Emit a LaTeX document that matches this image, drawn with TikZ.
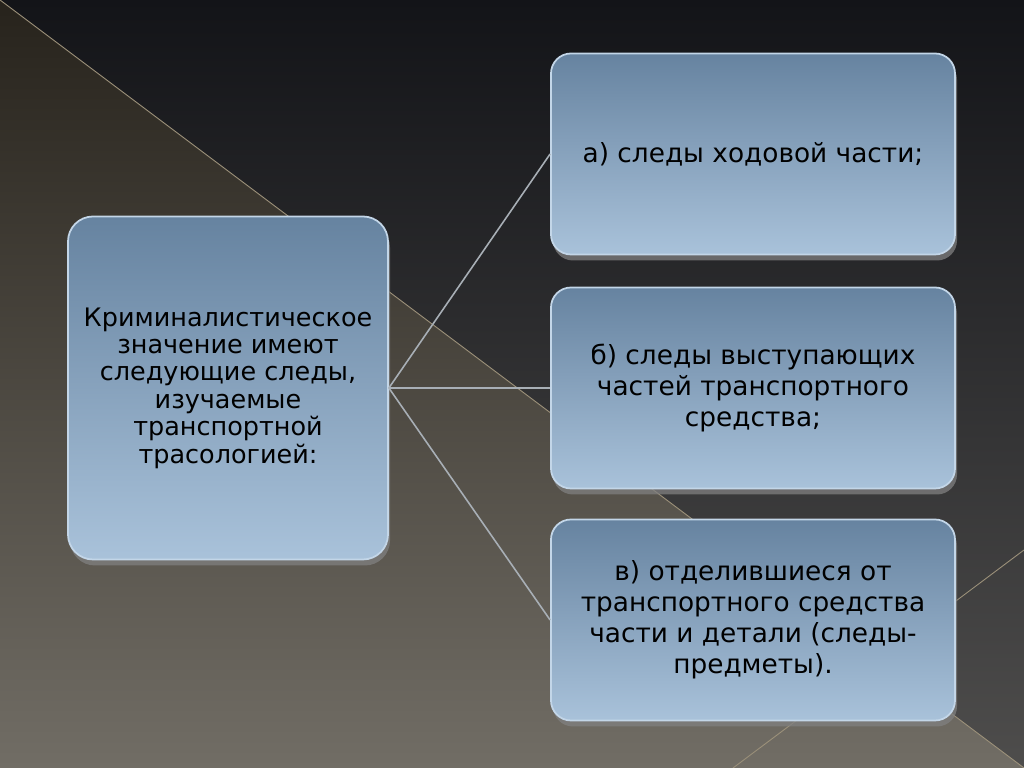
\documentclass[tikz,border=0pt]{standalone}
\usepackage{fontspec}
\setmainfont{DejaVu Sans}
\usetikzlibrary{shadows}
\definecolor{bgTop}{HTML}{131418}
\definecolor{bgMid}{HTML}{18191D}
\definecolor{bgBottom}{HTML}{4E4D4C}
\definecolor{brownTop}{HTML}{27231C}
\definecolor{brownMid}{HTML}{39342C}
\definecolor{brownBottom}{HTML}{716D65}
\definecolor{rimLine}{HTML}{9C917A}
\definecolor{boxTop}{HTML}{6683A0}
\definecolor{boxMid}{HTML}{93ACC5}
\definecolor{boxBottom}{HTML}{A9C2DA}
\definecolor{boxRim}{HTML}{C3D6E8}
\definecolor{edgeGray}{HTML}{A8AFB6}

\begin{document}
\begin{tikzpicture}
[x=0.2mm,y=0.2mm,
  boxDecorate/.style={shape=rectangle,draw=boxRim,line width=1pt,
    top color=boxTop,middle color=boxMid,bottom color=boxBottom,
    drop shadow={opacity=0.75,shadow xshift=0.4mm,shadow yshift=-1.2mm},
    inner sep=2mm,align=center,text=black},
  mainDecorate/.style={boxDecorate,rounded corners=5mm,
    minimum width=64mm,minimum height=68.6mm,
    font=\fontsize{14.5}{15.6}\selectfont},
  itemDecorate/.style={boxDecorate,rounded corners=4mm,
    minimum width=80.8mm,minimum height=40.2mm,
    font=\fontsize{15}{17.6}\selectfont},
  lineDecorate/.style={-,draw=edgeGray,line width=0.9pt}]
\useasboundingbox (0,0) rectangle (1024,768);
%% background
\shade[top color=bgTop,middle color=bgMid,bottom color=bgBottom] (0,0) rectangle (1024,768);
\shade[top color=brownTop,middle color=brownMid,bottom color=brownBottom]
  (0,768) -- (1024,0) -- (0,0) -- cycle;
\draw[rimLine,line width=0.5pt] (0,768) -- (1024,0);
\draw[rimLine,line width=0.5pt] (1024,218) -- (733,0);
%% nodes
\node (main) at (228,380) [mainDecorate]
  {Криминалистическое\\значение имеют\\следующие следы,\\изучаемые\\транспортной\\трасологией:};
\foreach \nodename/\y/\txt in {a/614/{а) следы ходовой части;},
  b/380/{б) следы выступающих\\частей транспортного\\средства;},
  c/148/{в) отделившиеся от\\транспортного средства\\части и детали (следы-\\предметы).}}
{
  \node (\nodename) at (753,\y) [itemDecorate] {\txt};
}
%% edges
\foreach \nodename in {a,b,c}
  \draw[lineDecorate] (main.east) -- (\nodename.west);
\end{tikzpicture}
\end{document}
